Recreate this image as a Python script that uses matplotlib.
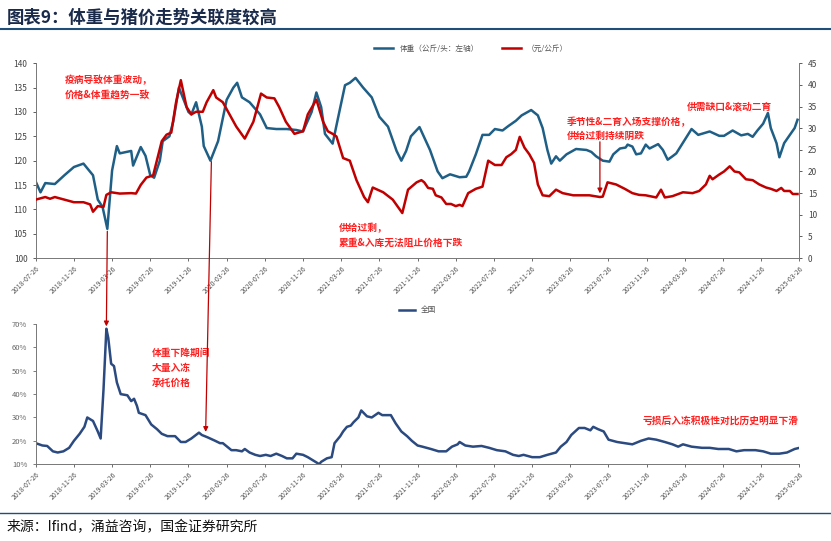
import matplotlib
matplotlib.use("Agg")
import matplotlib.pyplot as plt
from matplotlib.patches import ConnectionPatch
from matplotlib.lines import Line2D

plt.rcParams["font.family"] = ["Noto Sans CJK SC", "DejaVu Sans"]

# ---------------- data (x = months since 2018-07-26) ----------------
tick_labels = ["2018-07-26","2018-11-26","2019-03-26","2019-07-26","2019-11-26","2020-03-26",
               "2020-07-26","2020-11-26","2021-03-26","2021-07-26","2021-11-26","2022-03-26",
               "2022-07-26","2022-11-26","2023-03-26","2023-07-26","2023-11-26","2024-03-26",
               "2024-07-26","2024-11-26","2025-03-26"]

weight_m = [0,0.5,1,2,3,4,5,6,6.5,7,7.5,8,8.5,8.8,10,10.2,11,11.5,12,12.4,13,13.3,14,14.4,15,16,16.3,16.8,
            17.4,17.6,18.3,19.1,20,20.7,21.1,21.6,22.4,23.5,24.2,25.2,26.3,27.3,28,28.9,29.4,29.9,30.3,31.1,
            31.8,32.4,32.9,33.5,34.3,35.2,36,36.9,37.8,38.3,38.8,39.3,40.2,41.3,42.1,42.6,43.4,44.4,45.1,45.4,
            46.1,46.8,47.5,48.1,48.9,49.5,50.3,50.9,51.9,52.6,53.1,53.6,54,54.5,54.9,55.6,56.6,57.7,58.2,58.7,
            59.4,60.1,60.5,61.2,61.8,62,62.5,62.9,63.4,63.9,64.3,65.2,65.7,66.2,66.7,67.1,67.9,68.7,69.4,70.6,
            71.6,72.1,73,73.9,74.6,75.1,75.6,76.2,76.7,77,77.6,77.9,78.4,79,79.5,79.8]
weight = [115.7,113.5,115.4,115.2,117,118.7,119.4,117,112,110.5,106,118,123,121.5,122,119,122.8,121,117,116.5,
          120,124,125,128,135,130,129.5,132,127,123,120,124,132.5,135,136,133,132,129.5,126.7,126.5,126.5,126.3,
          126,130,134,131,125.5,123.5,130,135.5,136,137,135,133,129,127,122,120,122,125,126.9,122.2,117.8,116.4,
          117.2,116.6,116.7,117.8,121.3,125.3,125.3,126.5,126.2,127.1,128.2,129.3,130.4,129.3,126.7,122.2,119.4,
          120.9,120,121.3,122.4,122.2,121.8,120.9,120,119.8,121.3,122.5,122.7,123.3,122.9,121.3,121.5,123.3,
          122.5,123.4,122.2,120.2,120.9,121.5,124,126.5,125.3,126,125.1,125.1,126.2,125.2,125.5,124.9,126.2,
          127.6,129.8,126.7,123.6,120.7,123.6,125.3,126.7,128.4]

price_m = [0,1,1.5,2,3,4,5,5.7,6,6.5,7.1,7.4,7.9,8.8,10,10.5,11,11.6,12.3,13.2,13.7,14.2,14.7,15.2,15.8,16.3,
           16.8,17.5,17.9,18.6,18.9,19.6,20.3,21,21.9,22.8,23.6,24.2,25,25.5,26.2,27.1,28,28.5,29.4,30.1,30.6,
           31.1,31.5,32.2,32.9,33.6,34.4,34.8,35.3,36.4,37.4,38.4,39,39.9,40.4,40.7,41.1,41.6,41.9,42.5,43,43.5,
           44,44.4,44.7,45.3,46.1,46.8,47.4,48.1,48.8,49.3,49.8,50.3,50.7,51.2,51.7,52.2,52.6,53.1,53.8,54.5,
           55.2,56.3,57,58,59.1,59.4,59.9,60.8,61.7,62.5,63.2,63.9,65,65.5,65.9,66.7,67.8,68.8,69.5,70.2,70.6,
           70.9,71.6,72.1,72.7,73.2,73.7,74.4,75.1,75.8,76.5,77,77.6,78.1,78.4,79,79.3,79.8]
price = [13.5,14.1,13.7,14.1,13.5,12.9,12.9,12.4,10.7,12.0,11.8,14.6,15.2,14.9,15.0,14.9,16.9,18.6,19.1,27,28.5,
         29.0,36,41.1,34.9,33.2,33.8,33.8,36,38.8,37.1,36,33.2,30.4,27.6,31.5,38.0,37.1,36.9,34.9,31.5,28.7,29.3,
         33.2,36.6,31.5,29.3,28.7,28.1,23.1,22.5,18,14.1,12.9,16.3,15.2,13.5,10.4,15.8,17.5,18,17.5,16.2,16,14.5,
         14,12.5,12.5,12,12.3,12,15,16,16.5,22.5,21.5,21.5,23.3,24,25,28,25.5,24,22,17,14.5,14.3,15.8,15,14.5,
         14.5,14.5,14.1,14.2,17.5,17,16,15,14.6,14.5,14,15.8,14,14.3,15.2,15,15.5,17,19,18.2,19.3,20,21.2,20,
         19.8,18.2,18,17,16.3,16,15.5,16.2,15.5,15.5,14.8,14.8]

frozen_m = [0,0.7,1.2,1.8,2.3,2.9,3.5,4,4.6,5.1,5.4,6,6.5,6.8,7.1,7.4,7.6,7.9,8.2,8.5,8.9,9.6,10,10.3,10.6,10.8,
            11.5,12.1,12.7,13.2,13.8,14.6,15.2,15.7,16.3,17.1,17.4,18,18.8,19.3,19.6,20.2,20.5,21,21.6,21.9,22.4,
            23,23.5,24.1,24.6,25.2,25.8,26.3,26.9,27.3,28,28.5,29.1,29.7,29.9,30.5,31,31.3,31.9,32.2,32.6,33,33.3,
            33.8,34.1,34.7,35.2,35.9,36.3,37.2,37.7,38.3,38.9,39.4,40,40.5,41.4,42.2,43,43.6,44.2,44.4,45,45.8,
            46.7,47.5,48.3,49.2,50,50.6,51.1,52,52.8,53.6,54.5,55,55.6,56.1,56.9,57.5,58.1,58.4,58.9,59.5,60,60.9,
            61.7,62.5,63.4,64.2,65,65.9,66.7,67.3,67.8,68.7,69.8,70.6,71.5,72.6,73.4,74.2,75.4,76.2,77,77.9,78.7,
            79.5,80]
frozen = [19,18,17.8,15.5,15,15.5,17,20,23,26,30,28.5,24,21,42,68,64,53,52,45,40,39.5,37,38,35,32,31,27,25,23,22,
          22,19.5,19.5,21,23.5,22.5,21.5,20,19,19,17,16,16,15.5,16.5,15,14,13.5,14,13.5,14.5,13.5,12.5,12.5,14.5,
          14,13,11.5,10,11,12.5,13,19,22,24,26,26.5,28,30,33,30.5,30,32,31,31,27.5,24,22,20,18,17.5,16.5,15.5,15.5,
          17.5,18.5,19.5,18,17.5,17.8,17,16,15.5,14,13.5,14,13,13,14,15,17.5,19.5,22.5,25.5,25.5,24.5,26,25,24,
          20.5,19.5,19,18.5,20,21,20.5,19.5,18.5,17.5,18.5,17.5,17,17,16.5,16.5,15.5,16,16,15.5,14.5,14.5,15,16.5,17]

BLUE = "#1f5f86"
RED = "#c00000"
NAVY = "#2b4a80"
ANN = "#ff2020"

fig = plt.figure(figsize=(8.31, 5.41), dpi=100)

# Title and frame lines
fig.text(0.008, 0.968, "图表9：体重与猪价走势关联度较高", fontsize=12.5, fontweight="bold",
         style="italic", color="#1a2a4a", va="center")
fig.add_artist(Line2D([0.0, 1.0], [0.946, 0.946], color="#1f4e79", lw=1.5))
fig.add_artist(Line2D([0.0, 1.0], [0.052, 0.052], color="#1f4e79", lw=1.0))
fig.text(0.008, 0.026, "来源：Ifind，涌益咨询，国金证券研究所", fontsize=10, color="#111111", va="center")

xticks = [4 * i for i in range(len(tick_labels))]

def style_x(ax):
    ax.set_xlim(0, 80)
    ax.set_xticks(xticks)
    ax.set_xticklabels(tick_labels, rotation=45, ha="right", fontsize=5, color="#555555",
                       rotation_mode="anchor")
    ax.tick_params(axis="x", length=2.5, color="#555555", width=0.6, pad=2)
    for s in ["top", "right"]:
        ax.spines[s].set_visible(False)
    for s in ax.spines.values():
        s.set_color("#777777")
        s.set_linewidth(0.7)

# ---------------- top chart ----------------
ax1 = fig.add_axes([0.043, 0.523, 0.919, 0.360])
ax2 = ax1.twinx()
l1, = ax1.plot(weight_m, weight, color=BLUE, lw=1.8)
l2, = ax2.plot(price_m, price, color=RED, lw=1.8)
ax1.set_ylim(100, 140)
ax1.set_yticks(range(100, 141, 5))
ax2.set_ylim(0, 45)
ax2.set_yticks(range(0, 46, 5))
style_x(ax1)
ax2.spines["top"].set_visible(False)
ax2.spines["left"].set_visible(False)
ax2.spines["bottom"].set_visible(False)
ax2.spines["right"].set_color("#777777")
ax2.spines["right"].set_linewidth(0.7)
ax1.tick_params(axis="y", labelsize=6, colors="#444444", length=2.5, width=0.6)
ax2.tick_params(axis="y", labelsize=6, colors="#444444", length=2.5, width=0.6)
ax1.legend([l1, l2], ["体重（公斤/头：左轴）", "（元/公斤）"], loc="lower center",
           bbox_to_anchor=(0.57, 1.02), ncol=2, frameon=False, fontsize=5.5,
           handlelength=2.5, columnspacing=3, labelcolor="#555555")

ax1.text(0.038, 0.94, "疫病导致体重波动，\n价格&体重趋势一致", transform=ax1.transAxes,
         fontsize=7, color=ANN, va="top", fontweight="bold", linespacing=1.5)
ax1.text(0.397, 0.18, "供给过剩，\n累重&入库无法阻止价格下跌", transform=ax1.transAxes,
         fontsize=7, color=ANN, va="top", fontweight="bold", linespacing=1.5)
ax1.text(0.695, 0.725, "季节性&二育入场支撑价格，\n供给过剩持续阴跌", transform=ax1.transAxes,
         fontsize=7, color=ANN, va="top", fontweight="bold", linespacing=1.5)
ax1.text(0.853, 0.805, "供需缺口&滚动二育", transform=ax1.transAxes,
         fontsize=7, color=ANN, va="top", fontweight="bold")
ax2.annotate("", xy=(59.1, 14.3), xytext=(59.1, 27.5),
             arrowprops=dict(arrowstyle="-|>", color="#c00000", lw=0.9, mutation_scale=7))

# ---------------- bottom chart ----------------
ax3 = fig.add_axes([0.043, 0.142, 0.919, 0.259])
l3, = ax3.plot(frozen_m, frozen, color=NAVY, lw=1.8)
ax3.set_ylim(10, 70)
ax3.set_yticks(range(10, 71, 10))
ax3.set_yticklabels([f"{v}%" for v in range(10, 71, 10)])
style_x(ax3)
ax3.tick_params(axis="y", labelsize=5.5, colors="#666666", length=2.5, width=0.6)
ax3.legend([l3], ["全国"], loc="lower center", bbox_to_anchor=(0.5, 1.02), frameon=False,
           fontsize=5.5, handlelength=2, labelcolor="#555555")
ax3.text(0.152, 0.83, "体重下降期间\n大量入冻\n承托价格", transform=ax3.transAxes,
         fontsize=7, color=ANN, va="top", fontweight="bold", linespacing=1.6)
ax3.text(0.795, 0.31, "亏损后入冻积极性对比历史明显下滑", transform=ax3.transAxes,
         fontsize=7, color=ANN, va="center", fontweight="bold")

# connecting arrows from top to bottom
for (xa, ya, xb, yb) in [(7.5, 105.5, 7.4, 69), (18.4, 119.8, 17.8, 23.8)]:
    cp = ConnectionPatch(xyA=(xa, ya), coordsA=ax1.transData, xyB=(xb, yb), coordsB=ax3.transData,
                         arrowstyle="-|>", color="#c00000", lw=0.9, mutation_scale=7)
    fig.add_artist(cp)

fig.savefig("out.png", dpi=100, facecolor="white")
